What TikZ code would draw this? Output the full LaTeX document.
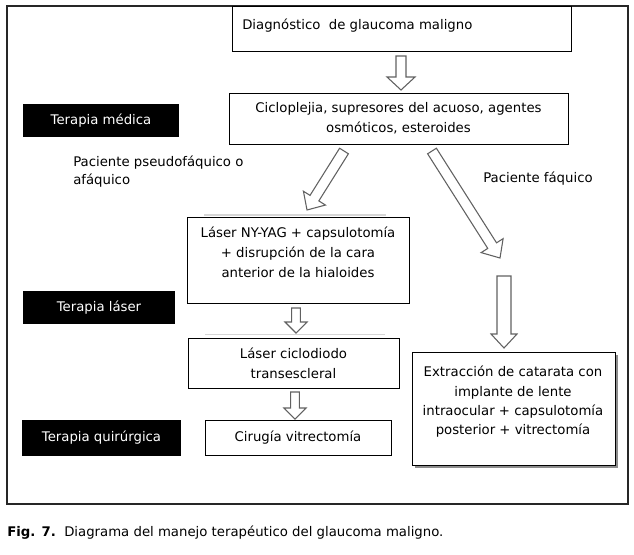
\documentclass[tikz,border=0pt]{standalone}
\usepackage{fontspec}
\setmainfont{DejaVu Sans}
\usetikzlibrary{calc,shadows}
\newcommand\fs{\fontsize{9.95}{15}\selectfont}
\newcommand\harr[6]{%
  \coordinate (#1s) at #2;
  \coordinate (#1e) at #3;
  \coordinate (#1h) at ($(#1e)!#6!(#1s)$);
  \draw[harrow] ($(#1s)!#4!90:(#1e)$) -- ($(#1h)!#4!90:(#1e)$) -- ($(#1h)!#5!90:(#1e)$)
    -- (#1e) -- ($(#1h)!#5!-90:(#1e)$) -- ($(#1h)!#4!-90:(#1e)$) -- ($(#1s)!#4!-90:(#1e)$) -- cycle;
}
\tikzset{
  box/.style={draw=black, line width=0.75pt, fill=white, inner sep=0pt, font=\fs, align=center},
  tag/.style={fill=black, text=white, inner sep=0pt, font=\fs},
  txt/.style={font=\fs, align=center, inner sep=0pt},
  harrow/.style={draw=black!62, line width=0.8pt, fill=white, line join=miter},
  frame/.style={draw=black!85, line width=1.2pt},
  ghost/.style={draw=black!16, line width=0.9pt},
}
\begin{document}
\begin{tikzpicture}[x=0.75pt,y=-0.75pt]
\useasboundingbox[fill=white] (0,0) rectangle (634,554);
\draw[frame] (7,6) rectangle (628,504);

% boxes
\node[box, minimum width=254.25pt, minimum height=33.75pt] (diag) at (401.5,28.5) {};
\node[txt, anchor=west] (diagt) at (242,26) {Diagnóstico\ \ de glaucoma maligno};

\node[box, minimum width=254.25pt, minimum height=38.25pt] (cic) at (398.5,118.5)
  {Cicloplejia, supresores del acuoso, agentes\\osmóticos, esteroides};

\node[tag, minimum width=117pt, minimum height=24.75pt] (tmed) at (101,120.5) {Terapia médica};

\node[txt, align=left, anchor=west, font=\fontsize{9.95}{13.5}\selectfont] (pseudo) at (73,172)
  {Paciente pseudofáquico o\\afáquico};
\node[txt, anchor=west] (faq) at (483,179) {Paciente fáquico};

\draw[ghost] (204,215) -- (386,215);
\node[box, minimum width=166.5pt, minimum height=64.5pt] (yag) at (298,260) {};
\node[txt] (yagt) at (298,252.5) {Láser NY-YAG + capsulotomía\\+ disrupción de la cara\\anterior de la hialoides};

\node[tag, minimum width=114pt, minimum height=24.75pt] (tlas) at (99,307.5) {Terapia láser};

\draw[ghost] (205,334.5) -- (385,334.5);
\node[box, minimum width=158.25pt, minimum height=37.5pt] (ciclo) at (293.5,363)
  {Láser ciclodiodo\\transescleral};

\node[box, minimum width=139.5pt, minimum height=26.25pt] (cir) at (298,437.5) {Cirugía vitrectomía};
\node[tag, minimum width=119.25pt, minimum height=27pt] (tqui) at (101.5,438) {Terapia quirúrgica};

\node[box, minimum width=152.25pt, minimum height=84.75pt,
  drop shadow={shadow xshift=2.2pt, shadow yshift=-2.2pt, fill=black!45, opacity=1}] (ext) at (513.5,408.5) {};
\node[txt, font=\fontsize{9.95}{14.5}\selectfont] (extt) at (513,402)
  {Extracción de catarata con\\implante de lente\\intraocular + capsulotomía\\posterior + vitrectomía};

% hollow arrows
\harr{a1}{(401,56)}{(401,90)}{3.75pt}{10.5pt}{9.75pt}
\harr{a2}{(344,151)}{(307,210)}{3.9pt}{9.75pt}{10.5pt}
\harr{a3}{(432,151)}{(500,258)}{3.9pt}{9.75pt}{11pt}
\harr{a4}{(504,276)}{(504,348)}{5.25pt}{9.75pt}{10.5pt}
\harr{a5}{(296,308)}{(296,333)}{3.3pt}{8.25pt}{8.25pt}
\harr{a6}{(295,392)}{(295,419)}{3.3pt}{8.25pt}{8.25pt}

\node[anchor=west, inner sep=0pt, font=\fs] (cap) at (7,533)
  {\textbf{Fig. 7.}\ \ Diagrama del manejo terapéutico del glaucoma maligno.};
\end{tikzpicture}
\end{document}
